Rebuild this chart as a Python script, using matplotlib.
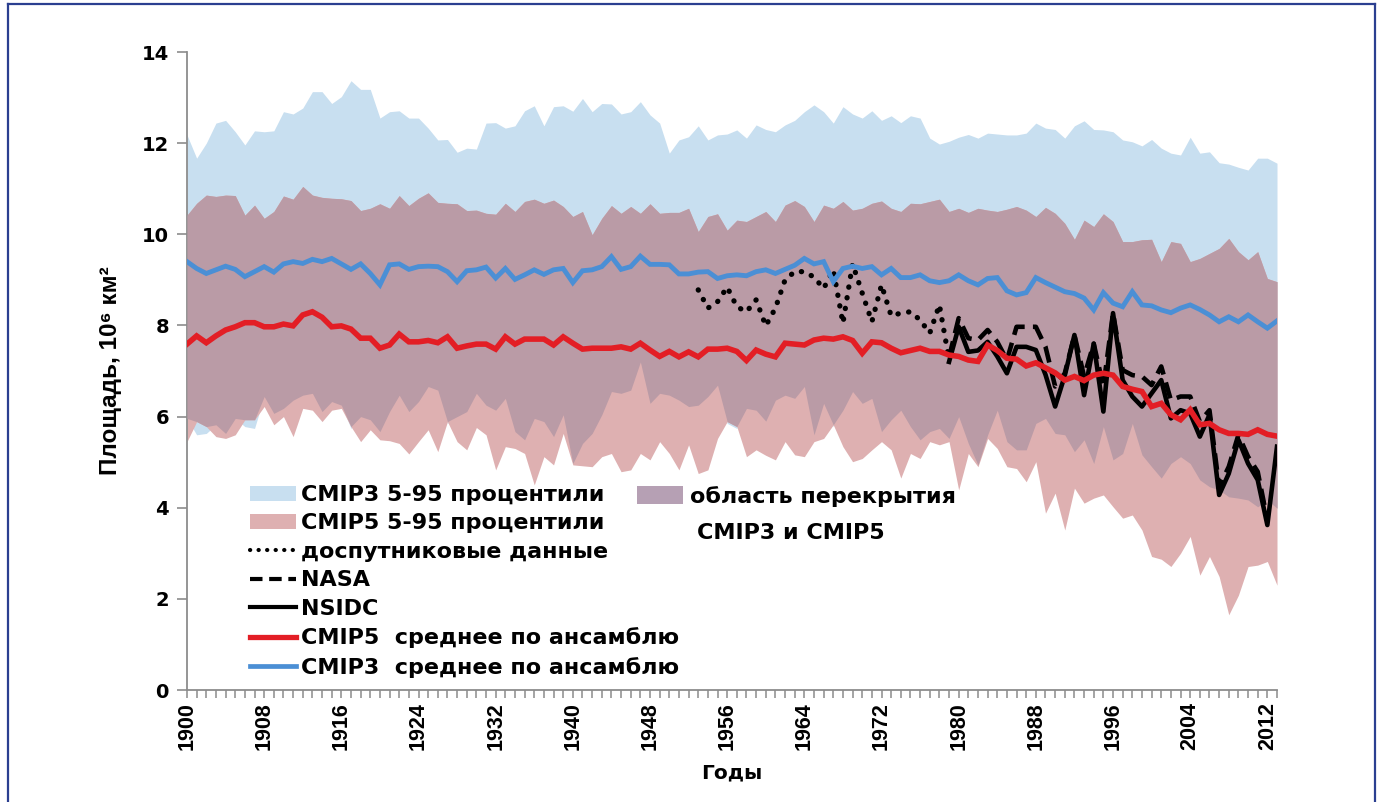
import numpy as np
import matplotlib
matplotlib.use("Agg")
import matplotlib.pyplot as plt
from matplotlib.patches import Patch
from matplotlib.lines import Line2D

years = np.arange(1900, 2014)

cmip3_hi = [12.18, 11.67, 12.0, 12.44, 12.5, 12.25, 11.96, 12.27, 12.25, 12.27,
            12.69, 12.64, 12.77, 13.13, 13.13, 12.87, 13.02, 13.37, 13.18, 13.18,
            12.55, 12.69, 12.71, 12.55, 12.55, 12.33, 12.07, 12.08, 11.8, 11.89,
            11.87, 12.44, 12.45, 12.33, 12.38, 12.71, 12.82, 12.38, 12.8, 12.82,
            12.7, 12.98, 12.69, 12.87, 12.86, 12.64, 12.69, 12.91, 12.62, 12.44,
            11.78, 12.07, 12.14, 12.38, 12.07, 12.18, 12.2, 12.29, 12.11, 12.4,
            12.3, 12.25, 12.4, 12.5, 12.69, 12.84, 12.69, 12.44, 12.8, 12.64,
            12.55, 12.71, 12.5, 12.6, 12.45, 12.6, 12.55, 12.11, 11.98, 12.04,
            12.13, 12.19, 12.11, 12.22, 12.2, 12.18, 12.18, 12.22, 12.44, 12.33,
            12.3, 12.11, 12.38, 12.49, 12.3, 12.29, 12.25, 12.07, 12.03, 11.94,
            12.08, 11.89, 11.78, 11.74, 12.13, 11.78, 11.81, 11.57, 11.54, 11.47,
            11.41, 11.67, 11.67, 11.56]

cmip3_lo = [5.96, 5.6, 5.63, 5.82, 5.63, 5.96, 5.78, 5.74, 6.44, 6.07,
            6.18, 6.36, 6.47, 6.51, 6.11, 6.33, 6.25, 5.74, 6.0, 5.93,
            5.67, 6.11, 6.47, 6.11, 6.33, 6.66, 6.58, 5.85, 6.0, 6.11,
            6.51, 6.25, 6.14, 6.4, 5.67, 5.49, 5.96, 5.89, 5.56, 6.04,
            4.97, 5.41, 5.63, 6.04, 6.55, 6.51, 6.58, 7.2, 6.29, 6.51,
            6.47, 6.36, 6.22, 6.25, 6.44, 6.69, 5.85, 5.74, 6.18, 6.14,
            5.9, 6.36, 6.47, 6.4, 6.66, 5.6, 6.29, 5.78, 6.14, 6.55,
            6.29, 6.4, 5.67, 5.93, 6.14, 5.78, 5.49, 5.67, 5.74, 5.52,
            6.0, 5.41, 4.94, 5.6, 6.14, 5.45, 5.27, 5.27, 5.85, 5.96,
            5.63, 5.6, 5.23, 5.49, 4.97, 5.78, 5.05, 5.19, 5.85, 5.16,
            4.9, 4.65, 4.97, 5.12, 4.97, 4.61, 4.46, 4.39, 4.24, 4.21,
            4.17, 4.02, 4.17, 3.99]

cmip5_hi = [10.42, 10.68, 10.86, 10.83, 10.86, 10.85, 10.42, 10.64, 10.35, 10.5,
            10.84, 10.77, 11.05, 10.86, 10.81, 10.79, 10.78, 10.74, 10.52, 10.57,
            10.67, 10.57, 10.85, 10.63, 10.79, 10.91, 10.7, 10.68, 10.67, 10.52,
            10.53, 10.46, 10.44, 10.68, 10.5, 10.72, 10.77, 10.68, 10.75, 10.61,
            10.39, 10.5, 9.99, 10.35, 10.63, 10.46, 10.61, 10.46, 10.67, 10.46,
            10.48, 10.48, 10.57, 10.06, 10.39, 10.45, 10.09, 10.31, 10.28, 10.39,
            10.5, 10.28, 10.64, 10.74, 10.61, 10.28, 10.64, 10.57, 10.72, 10.53,
            10.57, 10.68, 10.73, 10.57, 10.5, 10.68, 10.67, 10.72, 10.77, 10.5,
            10.57, 10.48, 10.57, 10.53, 10.5, 10.55, 10.61, 10.53, 10.39, 10.59,
            10.46, 10.24, 9.89, 10.31, 10.17, 10.45, 10.28, 9.84, 9.84, 9.88,
            9.89, 9.4, 9.84, 9.8, 9.4, 9.47, 9.58, 9.69, 9.91, 9.62,
            9.44, 9.62, 9.03, 8.96]

cmip5_lo = [5.45, 5.89, 5.78, 5.56, 5.52, 5.6, 5.93, 5.93, 6.22, 5.82,
            6.0, 5.56, 6.18, 6.14, 5.89, 6.14, 6.18, 5.78, 5.45, 5.71,
            5.49, 5.47, 5.41, 5.18, 5.45, 5.71, 5.23, 5.89, 5.45, 5.27,
            5.76, 5.6, 4.83, 5.34, 5.3, 5.19, 4.5, 5.12, 4.94, 5.63,
            4.94, 4.92, 4.9, 5.12, 5.19, 4.79, 4.83, 5.19, 5.05, 5.45,
            5.19, 4.83, 5.38, 4.75, 4.83, 5.52, 5.89, 5.78, 5.12, 5.27,
            5.15, 5.05, 5.45, 5.16, 5.12, 5.45, 5.52, 5.82, 5.34, 5.01,
            5.08, 5.27, 5.45, 5.27, 4.65, 5.19, 5.08, 5.45, 5.38, 5.45,
            4.39, 5.19, 4.9, 5.52, 5.3, 4.9, 4.86, 4.57, 5.01, 3.88,
            4.32, 3.51, 4.43, 4.1, 4.21, 4.28, 4.02, 3.77, 3.84, 3.51,
            2.93, 2.87, 2.71, 3.0, 3.37, 2.52, 2.93, 2.49, 1.65, 2.08,
            2.71, 2.74, 2.82, 2.3]

cmip3_mean = [9.4, 9.25, 9.14, 9.22, 9.3, 9.23, 9.07, 9.18, 9.29, 9.17,
              9.35, 9.4, 9.36, 9.45, 9.4, 9.47, 9.35, 9.23, 9.35, 9.14,
              8.89, 9.33, 9.35, 9.23, 9.29, 9.3, 9.29, 9.18, 8.96, 9.2,
              9.22, 9.28, 9.04, 9.25, 9.01, 9.11, 9.22, 9.12, 9.22, 9.25,
              8.94, 9.2, 9.22, 9.29, 9.51, 9.23, 9.29, 9.52, 9.34, 9.34,
              9.33, 9.13, 9.13, 9.17, 9.18, 9.03, 9.09, 9.11, 9.09, 9.18,
              9.22, 9.14, 9.23, 9.32, 9.47, 9.35, 9.4, 8.96, 9.25, 9.3,
              9.25, 9.29, 9.11, 9.25, 9.05, 9.05, 9.11, 8.98, 8.94, 8.98,
              9.11, 8.98, 8.89, 9.03, 9.05, 8.76, 8.67, 8.72, 9.05, 8.94,
              8.84, 8.74, 8.7, 8.6, 8.34, 8.72, 8.49, 8.41, 8.74, 8.45,
              8.43, 8.34, 8.28, 8.38, 8.45, 8.35, 8.23, 8.08, 8.19, 8.08,
              8.23, 8.08, 7.94, 8.1]

cmip5_mean = [7.59, 7.77, 7.62, 7.77, 7.9, 7.97, 8.06, 8.06, 7.97, 7.97,
              8.03, 7.99, 8.23, 8.3, 8.18, 7.97, 7.99, 7.92, 7.72, 7.72,
              7.5, 7.57, 7.81, 7.64, 7.64, 7.67, 7.62, 7.75, 7.5, 7.55,
              7.59, 7.59, 7.48, 7.75, 7.59, 7.7, 7.7, 7.7, 7.57, 7.75,
              7.61, 7.48, 7.5, 7.5, 7.5, 7.53, 7.48, 7.61, 7.46, 7.32,
              7.43, 7.31, 7.42, 7.31, 7.48, 7.48, 7.5, 7.43, 7.23, 7.46,
              7.37, 7.31, 7.61, 7.59, 7.57, 7.68, 7.72, 7.7, 7.75, 7.67,
              7.39, 7.64, 7.62, 7.5, 7.4, 7.45, 7.5, 7.43, 7.43, 7.35,
              7.32, 7.24, 7.21, 7.57, 7.45, 7.28, 7.26, 7.11, 7.18, 7.07,
              6.96, 6.8, 6.88, 6.79, 6.91, 6.95, 6.91, 6.66, 6.6, 6.55,
              6.22, 6.29, 6.04, 5.93, 6.15, 5.82, 5.85, 5.71, 5.63, 5.63,
              5.61, 5.71, 5.61, 5.57]

presat_years = np.arange(1953, 1980)
presat = [8.78, 8.38, 8.52, 8.84, 8.41, 8.3, 8.56, 7.99, 8.38, 9.0,
          9.18, 9.18, 9.06, 8.81, 9.22, 8.05, 9.35, 8.71, 8.08, 8.89,
          8.21, 8.27, 8.3, 8.12, 7.83, 8.45, 7.25]

nasa_years = np.arange(1979, 2013)
nasa = [7.3, 8.16, 7.72, 7.68, 7.9, 7.64, 7.24, 7.97, 7.97, 7.97,
        7.53, 6.66, 6.95, 7.79, 6.88, 7.6, 6.66, 8.27, 7.02, 6.91,
        6.88, 6.69, 7.1, 6.36, 6.44, 6.44, 5.89, 6.14, 4.46, 4.9,
        5.6, 5.12, 4.79, 3.73]

nsidc_years = np.arange(1979, 2014)
nsidc = [7.2, 7.97, 7.42, 7.45, 7.64, 7.32, 6.95, 7.53, 7.53, 7.46,
         6.92, 6.22, 6.9, 7.79, 6.47, 7.6, 6.11, 8.27, 6.8, 6.44,
         6.22, 6.51, 6.8, 5.96, 6.14, 6.07, 5.56, 6.04, 4.28, 4.75,
         5.49, 4.97, 4.61, 3.62, 5.34]

label_years = list(range(1900, 2013, 8))
y_ticks = [0, 2, 4, 6, 8, 10, 12, 14]

C_LIGHTBLUE = "#c8dff0"
C_PINK = "#deb0b1"
C_MAUVE = "#ba9ba6"
C_MAUVE_LEG = "#b6a0b4"
C_BLUE = "#4b8fd5"
C_RED = "#e31e25"
C_AXIS = "#8c8c8c"

HFONT = ["DejaVu Sans"]
RFONT = ["Liberation Sans", "DejaVu Sans"]

W, H = 1382, 802
fig = plt.figure(figsize=(W / 100, H / 100), dpi=100)
ax = fig.add_axes([187 / W, 1 - 690 / H, (1277 - 187) / W, (690 - 52) / H])

c3h = np.array(cmip3_hi); c3l = np.array(cmip3_lo)
c5h = np.array(cmip5_hi); c5l = np.array(cmip5_lo)
ax.fill_between(years, c3l, c3h, color=C_LIGHTBLUE, lw=0, zorder=1)
ax.fill_between(years, c5l, c5h, color=C_PINK, lw=0, zorder=2)
olo = np.maximum(c3l, c5l)
ohi = np.minimum(c3h, c5h)
ax.fill_between(years, olo, ohi, where=ohi > olo, interpolate=True,
                color=C_MAUVE, lw=0, zorder=3)

ax.plot(presat_years, presat, color="black", lw=3.8,
        linestyle=(0, (0.05, 2.0)), dash_capstyle="round", zorder=5)
ax.plot(nasa_years, nasa, color="black", lw=3.3,
        linestyle=(0, (3.6, 1.8)), zorder=5)
ax.plot(nsidc_years, nsidc, color="black", lw=3.3, zorder=6)
ax.plot(years, cmip5_mean, color=C_RED, lw=4.0, zorder=7, solid_joinstyle="miter")
ax.plot(years, cmip3_mean, color=C_BLUE, lw=3.5, zorder=8, solid_joinstyle="miter")

ax.set_xlim(1900, 2013)
ax.set_ylim(0, 14)
for s in ["top", "right"]:
    ax.spines[s].set_visible(False)
for s in ["left", "bottom"]:
    ax.spines[s].set_color(C_AXIS)
    ax.spines[s].set_linewidth(1.3)

ax.set_yticks(y_ticks)
ax.set_yticklabels([str(v) for v in y_ticks], fontsize=14, fontweight="bold",
                   family=HFONT)
ax.tick_params(axis="y", direction="out", length=7, width=1.2, color=C_AXIS, pad=6)

ax.set_xticks(label_years)
ax.set_xticklabels([str(v) for v in label_years], rotation=90, fontsize=15.5,
                   fontweight="bold", family=RFONT)
ax.set_xticks(years, minor=True)
ax.tick_params(axis="x", which="both", direction="out", length=6, width=1.1,
               color=C_AXIS, pad=3)

ax.set_ylabel("Площадь, 10⁶ км²", fontsize=17.5, fontweight="bold", family=RFONT)
ax.yaxis.set_label_coords((122 - 187) / (1277 - 187), 0.5)
ax.set_xlabel("Годы", fontsize=14.5, fontweight="bold", family=HFONT)
ax.xaxis.set_label_coords((732 - 187) / (1277 - 187), (690 - 763) / (690 - 52))

handles = [
    Patch(facecolor=C_LIGHTBLUE, edgecolor="none"),
    Patch(facecolor=C_PINK, edgecolor="none"),
    Line2D([], [], color="black", lw=3.0, linestyle=(0, (0.05, 2.0)),
           dash_capstyle="round"),
    Line2D([], [], color="black", lw=3.0, linestyle=(0, (3.0, 1.6))),
    Line2D([], [], color="black", lw=3.0),
    Line2D([], [], color=C_RED, lw=3.8),
    Line2D([], [], color=C_BLUE, lw=3.4),
]
labels = ["CMIP3 5-95 процентили", "CMIP5 5-95 процентили",
          "доспутниковые данные", "NASA", "NSIDC",
          "CMIP5  среднее по ансамблю", "CMIP3  среднее по ансамблю"]
leg = fig.legend(handles, labels, loc="upper left",
                 bbox_to_anchor=(250 / W, 1 - 485 / H),
                 frameon=False, borderpad=0, borderaxespad=0,
                 handlelength=2.05, handleheight=0.65, handletextpad=0.25,
                 labelspacing=0.38,
                 prop={"family": HFONT, "weight": "bold", "size": 16})

leg2 = fig.legend([Patch(facecolor=C_MAUVE_LEG, edgecolor="none")],
                  ["область перекрытия"], loc="upper left",
                  bbox_to_anchor=(637 / W, 1 - 486 / H),
                  frameon=False, borderpad=0, borderaxespad=0,
                  handlelength=2.05, handleheight=0.85, handletextpad=0.35,
                  prop={"family": HFONT, "weight": "bold", "size": 16})
fig.text(697 / W, 1 - 533 / H, "CMIP3 и CMIP5", fontsize=16, fontweight="bold",
         family=HFONT, va="center", ha="left")

# outer frame
for xs, ys in [([8, 8], [802, 4]), ([1375, 1375], [802, 4]), ([8, 1375], [4, 4])]:
    fig.add_artist(Line2D([x / W for x in xs], [1 - y / H for y in ys],
                          transform=fig.transFigure, color="#2b3f90", lw=1.6))

fig.savefig("out.png", dpi=100, facecolor="white")
